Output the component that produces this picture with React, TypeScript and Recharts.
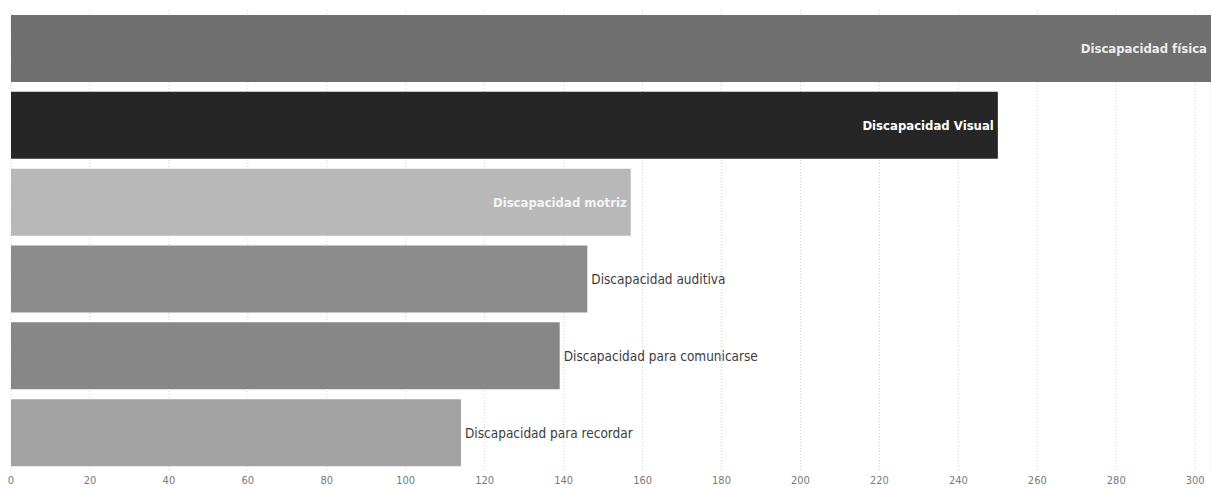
import { Bar, BarChart, CartesianGrid, Cell, LabelList, XAxis, YAxis } from "recharts";

// categorías de discapacidad (de arriba hacia abajo)
const categories = [
  "Discapacidad física",
  "Discapacidad Visual",
  "Discapacidad motriz",
  "Discapacidad auditiva",
  "Discapacidad para comunicarse",
  "Discapacidad para recordar",
];

// valores
const values = [304, 250, 157, 146, 139, 114];

const xTicks = [0, 20, 40, 60, 80, 100, 120, 140, 160, 180, 200, 220, 240, 260, 280, 300];

// estilo: tonos de gris por barra y etiquetas que van dentro de la barra
const barColors = ["#6f6f6f", "#262626", "#b8b8b8", "#8c8c8c", "#878787", "#a3a3a3"];
const insideLabelColors = ["#ececec", "#ffffff", "#f4f4f4"];
const insideLabels = ["Discapacidad física", "Discapacidad Visual", "Discapacidad motriz"];

const data = categories.map((name, i) => ({ name, value: values[i] }));

const FONT = "'Liberation Sans Narrow', 'DejaVu Sans Condensed', sans-serif";

function BarLabel(props: any) {
  const { x, y, width, height, index } = props;
  const name = categories[index];
  const inside = insideLabels.includes(name);
  const cy = y + height / 2;
  if (inside) {
    return (
      <text
        x={x + width - 4}
        y={cy}
        textAnchor="end"
        dominantBaseline="central"
        fontFamily={FONT}
        fontSize={13}
        fontWeight={600}
        fill={insideLabelColors[index]}
      >
        {name}
      </text>
    );
  }
  return (
    <text
      x={x + width + 4}
      y={cy}
      textAnchor="start"
      dominantBaseline="central"
      fontFamily={FONT}
      fontSize={13.5}
      fill="#3c3c3c"
    >
      {name}
    </text>
  );
}

export default function App() {
  return (
    <div style={{ position: "absolute", left: 0, top: 0, background: "#fff" }}>
      <BarChart
        width={1211}
        height={489}
        data={data}
        layout="vertical"
        margin={{ top: 10, right: 0, bottom: 0, left: 11 }}
      >
        <CartesianGrid
          horizontal={false}
          strokeDasharray="1 2"
          stroke="#d2d2d2"
        />
        <XAxis
          type="number"
          domain={[0, 304]}
          ticks={xTicks}
          allowDataOverflow
          axisLine={false}
          tickLine={false}
          tickSize={0}
          tickMargin={5}
          height={18}
          interval={0}
          tick={{ fontSize: 11, fill: "#7a7a7a", fontFamily: FONT }}
        />
        <YAxis type="category" dataKey="name" hide />
        <Bar dataKey="value" barSize={67} isAnimationActive={false}>
          {data.map((d, i) => (
            <Cell key={d.name} fill={barColors[i]} />
          ))}
          <LabelList dataKey="name" content={<BarLabel />} />
        </Bar>
      </BarChart>
    </div>
  );
}
